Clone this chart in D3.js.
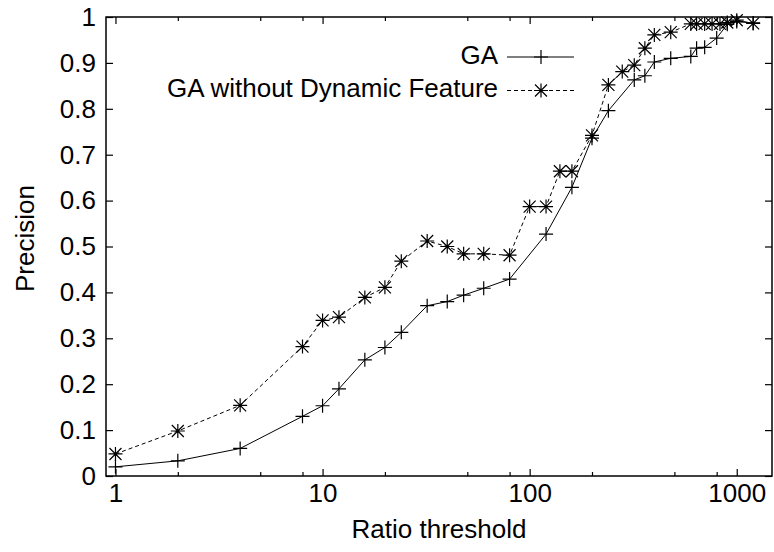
<!DOCTYPE html>
<html>
<head>
<meta charset="utf-8">
<script src="https://cdn.jsdelivr.net/npm/d3@7"></script>
<style>
    body { margin: 0; background: #fff; }
    text { font-family: "Liberation Sans", Arial, sans-serif; font-size: 26px; fill: #000; }
</style>
</head>
<body>
<svg class="chart"></svg>
<script>
// Graphic margins and dimensions
var width = 774;
var height = 552;
var margin = {top: 17, right: 2, bottom: 76, left: 106};
var w = width - margin.left - margin.right;
var h = height - margin.top - margin.bottom;

// GA series
var gaX = [1, 2, 4, 8, 10, 12, 16, 20, 24, 32, 40, 48, 60, 80, 120, 160, 200, 240,
    320, 360, 400, 480, 600, 640, 700, 800, 900, 1000, 1200];
var gaY = [0.02, 0.033, 0.06, 0.13, 0.153, 0.19, 0.253, 0.28, 0.313, 0.371, 0.38, 0.394,
    0.409, 0.429, 0.527, 0.629, 0.736, 0.796, 0.863, 0.872, 0.902, 0.91, 0.914, 0.932,
    0.934, 0.954, 0.984, 0.99, 0.987];

// GA without Dynamic Feature series
var noDynX = [1, 2, 4, 8, 10, 12, 16, 20, 24, 32, 40, 48, 60, 80, 100, 120, 140, 160,
    200, 240, 280, 320, 360, 400, 480, 600, 640, 700, 760, 830, 900, 1000, 1200];
var noDynY = [0.048, 0.098, 0.154, 0.282, 0.339, 0.346, 0.389, 0.411, 0.468, 0.512, 0.5,
    0.484, 0.484, 0.481, 0.587, 0.587, 0.664, 0.664, 0.742, 0.852, 0.881, 0.895, 0.932,
    0.961, 0.967, 0.985, 0.985, 0.985, 0.985, 0.985, 0.988, 0.993, 0.986];

var seriesNames = ["GA", "GA without Dynamic Feature"];
var xMajorTicks = [1, 10, 100, 1000];
var xMinorTicks = [2, 5, 8, 20, 50, 80, 200, 500, 800];
var yTicks = [0, 0.1, 0.2, 0.3, 0.4, 0.5, 0.6, 0.7, 0.8, 0.9, 1];
var xTitle = "Ratio threshold";
var yTitle = "Precision";

var chart = d3.select(".chart")
    .attr("width", width)
    .attr("height", height)
    .append("g")
    .attr("transform", "translate(" + margin.left + "," + margin.top + ")");

var x = d3.scaleLog()
    .domain([0.9, 1480])
    .range([0, w]);

var y = d3.scaleLinear()
    .domain([0, 1])
    .range([h, 0]);

// inward ticks on all four sides, labels only bottom / left
function tickAxis(axis, vals, size, fmt) {
    return axis.tickValues(vals).tickSizeInner(-size).tickSizeOuter(0)
        .tickFormat(fmt ? fmt : "");
}

chart.append("g")
    .attr("class", "axis")
    .attr("transform", "translate(0," + h + ")")
    .call(tickAxis(d3.axisBottom(x), xMajorTicks, 7, d3.format("d")).tickPadding(7.5));
chart.append("g")
    .attr("class", "axis")
    .attr("transform", "translate(0," + h + ")")
    .call(tickAxis(d3.axisBottom(x), xMinorTicks, 4));
chart.append("g")
    .attr("class", "axis")
    .call(tickAxis(d3.axisTop(x), xMajorTicks, 7));
chart.append("g")
    .attr("class", "axis")
    .call(tickAxis(d3.axisTop(x), xMinorTicks, 4));

chart.append("g")
    .attr("class", "axis")
    .call(tickAxis(d3.axisLeft(y), yTicks, 7, function(d) { return d3.format("")(+d.toFixed(1)); })
        .tickPadding(10));
chart.append("g")
    .attr("class", "axis")
    .attr("transform", "translate(" + w + ",0)")
    .call(tickAxis(d3.axisRight(y), yTicks, 7));

chart.selectAll(".axis .domain").remove();
chart.selectAll(".axis line").attr("stroke", "#000").attr("stroke-width", 1.2);
chart.selectAll(".axis text")
    .attr("font-family", null).attr("font-size", null)
    .style("font-family", "'Liberation Sans', Arial, sans-serif")
    .style("font-size", "26px").attr("fill", "#000");

// frame
chart.append("rect")
    .attr("width", w)
    .attr("height", h)
    .attr("fill", "none")
    .attr("stroke", "#000")
    .attr("stroke-width", 1.5);

// axis titles
chart.append("text")
    .attr("x", w / 2)
    .attr("y", h + 62)
    .style("text-anchor", "middle")
    .text(xTitle);

chart.append("text")
    .attr("transform", "rotate(-90)")
    .attr("x", -h / 2 + 8)
    .attr("y", -margin.left + 34)
    .style("text-anchor", "middle")
    .text(yTitle);

// marker paths
function plusPath(cx, cy) {
    var s = 7;
    return "M" + (cx - s) + "," + cy + "H" + (cx + s) + "M" + cx + "," + (cy - s) + "V" + (cy + s);
}
function starPath(cx, cy) {
    var d = 6;
    return plusPath(cx, cy) +
        "M" + (cx - d) + "," + (cy - d) + "L" + (cx + d) + "," + (cy + d) +
        "M" + (cx - d) + "," + (cy + d) + "L" + (cx + d) + "," + (cy - d);
}

var series = [
    {name: seriesNames[0], xs: gaX, ys: gaY, dash: null, marker: plusPath},
    {name: seriesNames[1], xs: noDynX, ys: noDynY, dash: "4,3", marker: starPath}
];

var line = d3.line()
    .x(function(d) { return x(d[0]); })
    .y(function(d) { return y(d[1]); });

series.forEach(function(s, i) {
    var pts = s.xs.map(function(v, j) { return [v, s.ys[j]]; });

    chart.append("path")
        .datum(pts)
        .attr("d", line)
        .attr("fill", "none")
        .attr("stroke", "#000")
        .attr("stroke-width", 1)
        .attr("stroke-dasharray", s.dash);

    chart.selectAll(".m" + i)
        .data(pts)
        .enter().append("path")
        .attr("class", "m" + i)
        .attr("d", function(d) { return s.marker(x(d[0]), y(d[1])); })
        .attr("fill", "none")
        .attr("stroke", "#000")
        .attr("stroke-width", 1.2);

    // legend entry
    var ly = 40 + i * 33.5;
    chart.append("text")
        .attr("x", 392)
        .attr("y", ly)
        .attr("dy", "0.25em")
        .style("text-anchor", "end")
        .text(s.name);
    chart.append("line")
        .attr("x1", 401).attr("x2", 468)
        .attr("y1", ly).attr("y2", ly)
        .attr("stroke", "#000")
        .attr("stroke-width", 1)
        .attr("stroke-dasharray", s.dash);
    chart.append("path")
        .attr("d", s.marker(435, ly))
        .attr("fill", "none")
        .attr("stroke", "#000")
        .attr("stroke-width", 1.2);
});
</script>
</body>
</html>
